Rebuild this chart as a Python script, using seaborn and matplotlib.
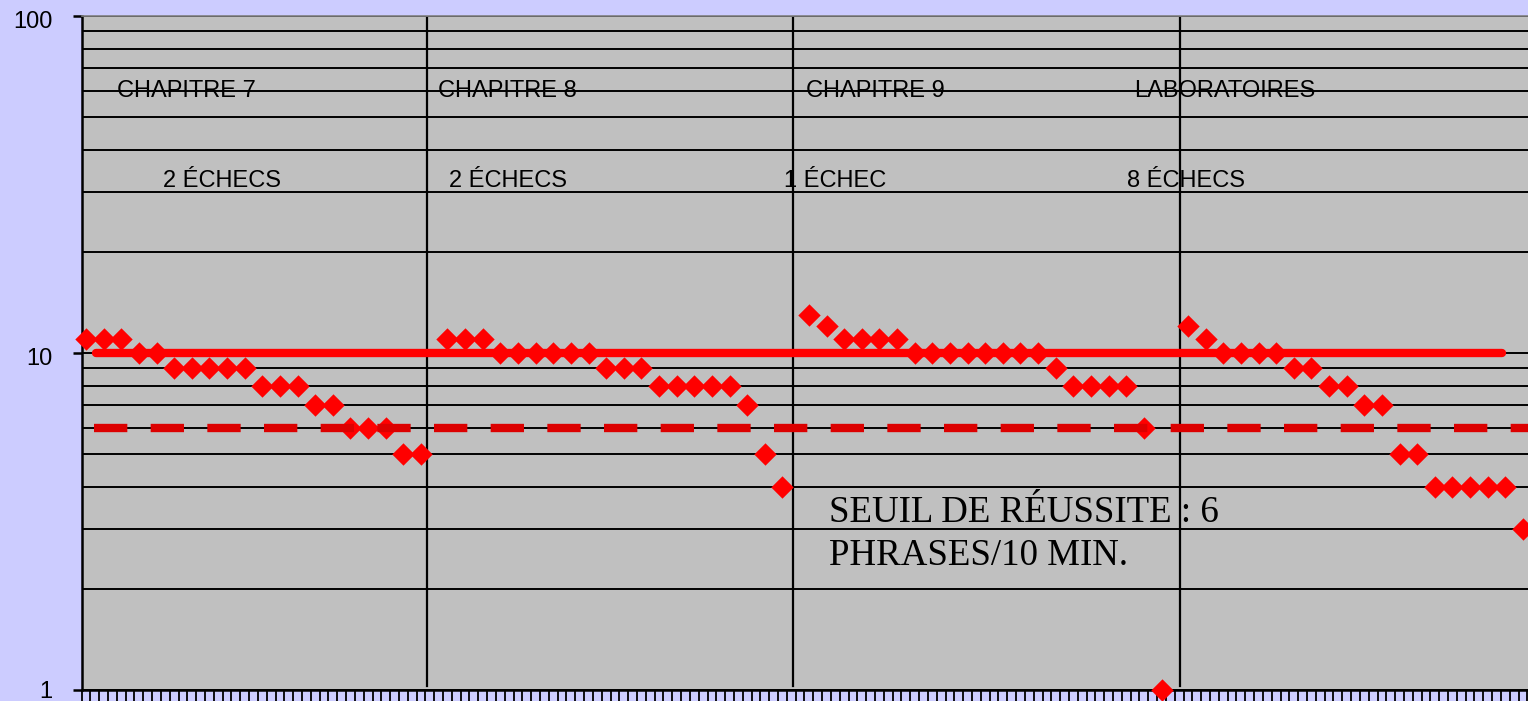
import numpy as np
import pandas as pd
import matplotlib
matplotlib.use("Agg")
import matplotlib.pyplot as plt
import matplotlib.transforms as mtransforms
import seaborn as sns
from matplotlib.ticker import FixedLocator, LogLocator, NullFormatter

# ---------------- data ----------------
chapters = ["CHAPITRE 7", "CHAPITRE 8", "CHAPITRE 9", "LABORATOIRES"]
failures = ["2 ÉCHECS", "2 ÉCHECS", "1 ÉCHEC", "8 ÉCHECS"]
ch7 = [11, 11, 11, 10, 10, 9, 9, 9, 9, 9, 8, 8, 8, 7, 7, 6, 6, 6, 5, 5]
ch8 = [11, 11, 11, 10, 10, 10, 10, 10, 10, 9, 9, 9, 8, 8, 8, 8, 8, 7, 5, 4]
ch9 = [13, 12, 11, 11, 11, 11, 10, 10, 10, 10, 10, 10, 10, 10, 9, 8, 8, 8, 8, 6, 1]
lab = [12, 11, 10, 10, 10, 10, 9, 9, 8, 8, 7, 7, 5, 5, 4, 4, 4, 4, 4, 3]
aim = 10
threshold = 6
y_ticks = [1, 10, 100]
y_tick_labels = ["1", "10", "100"]
threshold_text = ["SEUIL DE RÉUSSITE : 6", "PHRASES/10 MIN."]

# ---------------- layout / style ----------------
W, H, DPI = 1528, 701, 100
step_in, step_between = 2, 3          # session spacing inside / between chapters
x_first = 0.5
x_max = 164.07
separators = [39.15, 80.73, 124.6]    # phase-change lines
aim_span = (1.66, 161.1)
thr_start = 1.41

plt.rcParams["font.family"] = ["Liberation Sans", "DejaVu Sans"]
plt.rcParams["ytick.labelsize"] = 17

rows = []
x = x_first
for name, vals in zip(chapters, [ch7, ch8, ch9, lab]):
    for v in vals:
        rows.append({"x": x, "y": v, "phase": name})
        x += step_in
    x += step_between - step_in
df = pd.DataFrame(rows)

fig = plt.figure(figsize=(W / DPI, H / DPI), dpi=DPI, facecolor="#CCCCFF")
left_px, top_px, bottom_px = 81.6, 16, 690
ax = fig.add_axes([left_px / W, (H - bottom_px) / H, (W - left_px) / W, (bottom_px - top_px) / H])
ax.set_facecolor("#C0C0C0")

# phase-change lines
for sx in separators:
    ax.axvline(sx, ymin=0.006, ymax=1, color="black", linewidth=1.6, zorder=2)

# aim line
ax.hlines(aim, aim_span[0], aim_span[1], color="#FF0000", linewidth=6,
          capstyle="round", zorder=3)

# data
sns.scatterplot(data=df, x="x", y="y", marker="D", s=130, color="#FF0000",
                linewidth=0, zorder=4, clip_on=False, legend=False, ax=ax)

# success threshold
ax.axhline(threshold, xmin=thr_start / x_max, xmax=1, color="#DC0000",
           linewidth=6, dashes=(4, 2.8), zorder=5)

ax.set_yscale("log")
ax.set_ylim(1, 100)
ax.set_xlim(0, x_max)
ax.set_xlabel("")
ax.set_ylabel("")

# grid
ax.yaxis.set_major_locator(FixedLocator(y_ticks))
ax.yaxis.set_minor_locator(LogLocator(base=10, subs=range(2, 10)))
ax.yaxis.set_minor_formatter(NullFormatter())
ax.set_yticks(y_ticks, y_tick_labels, fontsize=17)
ax.grid(True, which="both", axis="y", color="black", linewidth=1.4, zorder=1)
ax.grid(False, axis="x")
ax.set_axisbelow(True)

# ticks
ax.set_xticks(np.arange(0, int(x_max) + 1))
ax.tick_params(axis="x", which="major", length=10, width=1.3, color="black",
               direction="out", labelbottom=False)
ax.tick_params(axis="y", which="major", length=6.7, width=1.8, color="black",
               direction="out", pad=14, labelsize=17, labelcolor="black")
ax.tick_params(axis="y", which="minor", length=0)

# upper labels sit slightly below their ticks in the reference
offset = mtransforms.ScaledTranslation(0, -3.5 / DPI, fig.dpi_scale_trans)
for lbl in ax.get_yticklabels():
    if lbl.get_text() != "1":
        lbl.set_transform(lbl.get_transform() + offset)

for side in ["left", "bottom"]:
    ax.spines[side].set_color("black")
    ax.spines[side].set_linewidth(1.8)
ax.spines["top"].set_color("#808080")
ax.spines["top"].set_linewidth(1.2)
ax.spines["right"].set_visible(False)

# annotations
def fx(px):
    return (px - left_px) / (W - left_px)

def fy(py):
    return (bottom_px - py) / (bottom_px - top_px)

chap_px = [117, 438, 806, 1134]
fail_px = [163, 449, 784, 1127]
for name, px in zip(chapters, chap_px):
    ax.text(fx(px), fy(97), name, transform=ax.transAxes, fontsize=17,
            ha="left", va="baseline", color="black", zorder=6)
for name, px in zip(failures, fail_px):
    ax.text(fx(px), fy(187), name, transform=ax.transAxes, fontsize=17,
            ha="left", va="baseline", color="black", zorder=6)
for line, py in zip(threshold_text, [522, 565]):
    ax.text(fx(829), fy(py), line, transform=ax.transAxes, fontsize=26.6,
            family=["Liberation Serif", "DejaVu Serif"],
            ha="left", va="baseline", color="black", zorder=6)

fig.savefig("out.png", dpi=DPI, facecolor=fig.get_facecolor())
